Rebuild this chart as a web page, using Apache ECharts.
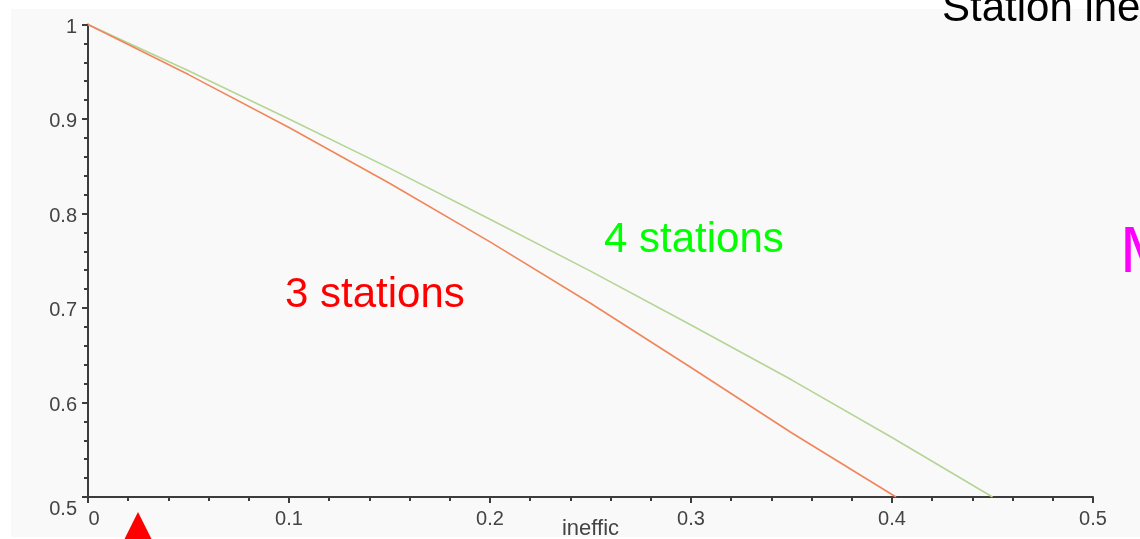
<!DOCTYPE html>
<html>
<head>
<meta charset="utf-8">
<script src="https://cdn.jsdelivr.net/npm/echarts@6/dist/echarts.min.js"></script>
<style>
  html, body { margin: 0; padding: 0; background: #ffffff; }
  #chart { width: 1140px; height: 539px; }
</style>
</head>
<body>
<div id="chart"></div>
<script>
// ---- data ----
const ineffic3 = [0, 0.05, 0.10, 0.15, 0.20, 0.25, 0.30, 0.35, 0.402];
const eff3     = [1, 0.947, 0.891, 0.832, 0.770, 0.705, 0.637, 0.568, 0.5];
const ineffic4 = [0, 0.05, 0.10, 0.15, 0.20, 0.25, 0.30, 0.35, 0.40, 0.45];
const eff4     = [1, 0.951, 0.900, 0.848, 0.794, 0.739, 0.682, 0.624, 0.563, 0.5];
const seriesNames = ['3 stations', '4 stations'];
const xTicks = [0, 0.1, 0.2, 0.3, 0.4, 0.5];
const yTicks = [0.5, 0.6, 0.7, 0.8, 0.9, 1];
const xName = 'ineffic';
const titleText = 'Station inefficiency';
const sideText = 'M';

const pairs = (xs, ys) => xs.map((x, i) => [x, ys[i]]);

const chart = echarts.init(document.getElementById('chart'), null, { renderer: 'canvas' });
const axisColor = '#3c3c3c';
const labelFont = { fontFamily: 'Liberation Sans', fontSize: 20, color: '#444444' };

chart.setOption({
  animation: false,
  backgroundColor: '#ffffff',
  grid: { left: 88, right: 47, top: 24.5, bottom: 42, containLabel: false, outerBoundsMode: 'none' },
  xAxis: {
    type: 'value',
    min: xTicks[0], max: xTicks[xTicks.length - 1], interval: 0.1,
    name: xName, nameLocation: 'middle', nameGap: 21, nameMoveOverlap: false,
    nameTextStyle: { fontFamily: 'Liberation Sans', fontSize: 22, color: '#444444', verticalAlign: 'top' },
    axisLine: { show: true, onZero: false, lineStyle: { color: axisColor, width: 2 } },
    axisTick: { show: true, inside: false, length: 6, lineStyle: { color: axisColor, width: 2 } },
    minorTick: { show: true, splitNumber: 5, length: 4, lineStyle: { color: axisColor, width: 2 } },
    splitLine: { show: false },
    axisLabel: Object.assign({}, labelFont, {
      margin: 12,
      formatter: v => v === 0 ? '{first|0}' : String(+v.toFixed(1)),
      rich: { first: Object.assign({}, labelFont, { padding: [0, 0, 0, 12] }) }
    })
  },
  yAxis: {
    type: 'value',
    min: yTicks[0], max: yTicks[yTicks.length - 1], interval: 0.1,
    axisLine: { show: true, onZero: false, lineStyle: { color: axisColor, width: 2 } },
    axisTick: { show: true, inside: false, length: 6, lineStyle: { color: axisColor, width: 2 } },
    minorTick: { show: true, splitNumber: 5, length: 4, lineStyle: { color: axisColor, width: 2 } },
    splitLine: { show: false },
    axisLabel: Object.assign({}, labelFont, {
      margin: 11,
      padding: [5, 0, 0, 0],
      formatter: v => v === 0.5 ? '{low|0.5}' : String(+v.toFixed(1)),
      rich: { low: Object.assign({}, labelFont, { padding: [20, 0, 0, 0] }) }
    })
  },
  series: [
    {
      name: seriesNames[0], type: 'line', showSymbol: false, smooth: false,
      lineStyle: { color: '#f0865a', width: 1.6 },
      data: pairs(ineffic3, eff3), z: 3
    },
    {
      name: seriesNames[1], type: 'line', showSymbol: false, smooth: false,
      lineStyle: { color: '#b4d596', width: 1.6 },
      data: pairs(ineffic4, eff4), z: 2
    }
  ],
  graphic: [
    { type: 'rect', z: -10, silent: true, shape: { x: 11, y: 9, width: 1129, height: 528 }, style: { fill: '#f9f9f9' } },
    { type: 'text', z: 10, left: 942, top: -12, style: { text: titleText, fontFamily: 'Liberation Sans', fontSize: 42, fill: '#000000' } },
    { type: 'text', z: 10, left: 604, top: 219, style: { text: seriesNames[1], fontFamily: 'Liberation Sans', fontSize: 42, fill: '#00ff00' } },
    { type: 'text', z: 10, left: 285, top: 274, style: { text: seriesNames[0], fontFamily: 'Liberation Sans', fontSize: 42, fill: '#ff0000' } },
    { type: 'text', z: 10, left: 1120, top: 222, style: { text: sideText, fontFamily: 'Liberation Sans', fontSize: 65, fill: '#ff00ff' } },
    { type: 'polygon', z: 10, shape: { points: [[138, 512], [124, 540], [152, 540]] }, style: { fill: '#ff0000' } }
  ]
});
</script>
</body>
</html>
